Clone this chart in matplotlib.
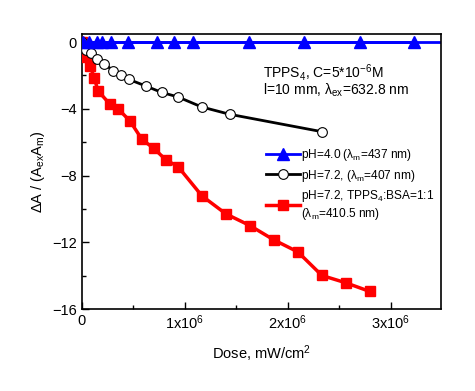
import matplotlib
matplotlib.use("Agg")
import matplotlib.pyplot as plt
from matplotlib.ticker import MultipleLocator, FixedLocator

plt.rcParams['font.family'] = ['Liberation Sans', 'DejaVu Sans']
plt.rcParams['mathtext.fontset'] = 'custom'
plt.rcParams['mathtext.rm'] = 'Liberation Sans'
plt.rcParams['mathtext.it'] = 'Liberation Sans'
plt.rcParams['mathtext.default'] = 'regular'

# Data (dose in units of 1e6 mW/cm^2)
blue_x = [0.007, 0.068, 0.146, 0.191, 0.282, 0.447, 0.725, 0.893, 1.075, 1.62, 2.16, 2.70, 3.22]
blue_y = [0, 0, 0, 0, 0, 0, 0, 0, 0, 0, 0, 0, 0]

black_x = [0, 0.04, 0.083, 0.149, 0.218, 0.301, 0.379, 0.456, 0.621, 0.774, 0.932, 1.162, 1.434, 2.327]
black_y = [0, -0.48, -0.68, -1.04, -1.30, -1.72, -2.0, -2.24, -2.64, -3.02, -3.29, -3.89, -4.33, -5.37]

red_x = [0, 0.007, 0.036, 0.078, 0.119, 0.155, 0.272, 0.350, 0.466, 0.583, 0.699, 0.816, 0.932,
         1.165, 1.398, 1.631, 1.864, 2.097, 2.330, 2.563, 2.796]
red_y = [0, -0.44, -0.88, -1.42, -2.14, -2.92, -3.73, -4.0, -4.73, -5.84, -6.38, -7.07, -7.46,
         -9.22, -10.3, -11.0, -11.86, -12.58, -13.99, -14.43, -14.95]

xticks = [0, 1, 2, 3]
xticklabels = ['0', '1x10$^6$', '2x10$^6$', '3x10$^6$']
yticks = [0, -4, -8, -12, -16]

fig = plt.figure(figsize=(4.75, 3.91), dpi=100)
ax = fig.add_axes([0.1726, 0.2097, 0.928 - 0.1726, 0.913 - 0.2097])

sc = 1e6
ax.axhline(0, color='#0000ff', lw=2, zorder=2)
ax.plot([x * sc for x in blue_x], blue_y, color='#0000ff', lw=2, marker='^', ms=8,
        mfc='#0000ff', mec='#0000ff', label='pH=4.0 ($\\lambda_m$=437 nm)', zorder=5)
ax.plot([x * sc for x in black_x], black_y, color='black', lw=2, marker='o', ms=7,
        mfc='white', mec='black', mew=0.8, label='pH=7.2, ($\\lambda_m$=407 nm)', zorder=4)
ax.plot([x * sc for x in red_x], red_y, color='#ff0000', lw=2.5, marker='s', ms=7.5,
        mfc='#ff0000', mec='#ff0000', label='pH=7.2, TPPS$_4$:BSA=1:1\n($\\lambda_m$=410.5 nm)', zorder=3)

ax.set_xlim(0, 3.485e6)
ax.set_ylim(-16, 0.48)
ax.xaxis.set_major_locator(FixedLocator([x * sc for x in xticks]))
ax.set_xticklabels(xticklabels)
ax.xaxis.set_minor_locator(MultipleLocator(0.5e6))
ax.yaxis.set_major_locator(FixedLocator(yticks))
ax.yaxis.set_minor_locator(MultipleLocator(2))
ax.tick_params(which='both', direction='in', labelsize=10.5, width=1)
ax.tick_params(which='major', length=5)
ax.tick_params(which='minor', length=3)
for s in ax.spines.values():
    s.set_linewidth(1.2)

ax.set_xlabel('Dose, mW/cm$^2$', fontsize=10.5, labelpad=8)
ax.set_ylabel('$\\Delta$A / (A$_{ex}$A$_m$)', fontsize=10.5, labelpad=4)

ax.text(263, 72, 'TPPS$_4$, C=5*10$^{-6}$M', transform=None, fontsize=10, va='center')
ax.text(263, 90, 'l=10 mm, $\\lambda_{ex}$=632.8 nm', transform=None, fontsize=10, va='center')

leg = ax.legend(loc='upper left', bbox_to_anchor=(0.5, 0.605), frameon=False, fontsize=8.6,
                handlelength=2.8, handletextpad=0.1, labelspacing=0.35, borderaxespad=0)

# convert pixel coords (from top) for texts
for t in ax.texts:
    x, y = t.get_position()
    t.set_position((x, 391 - y))

fig.savefig('out.png', dpi=100)
